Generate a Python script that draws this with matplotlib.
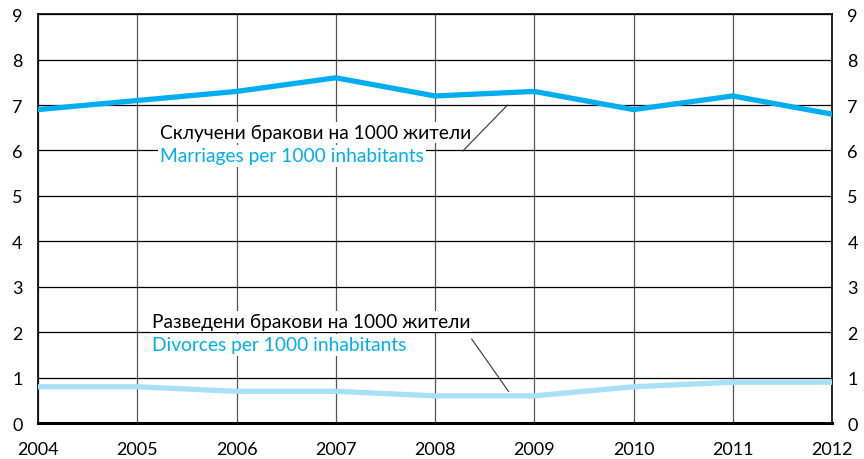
import numpy as np
import matplotlib.pyplot as plt

plt.rcParams['font.family'] = ['Lato', 'DejaVu Sans']

years = [2004, 2005, 2006, 2007, 2008, 2009, 2010, 2011, 2012]
marriages = [6.9, 7.1, 7.3, 7.6, 7.2, 7.3, 6.9, 7.2, 6.8]
divorces = [0.8, 0.8, 0.7, 0.7, 0.6, 0.6, 0.8, 0.9, 0.9]

fig = plt.figure(figsize=(8.64, 4.6), dpi=100)
ax = fig.add_axes([0.044, 0.078, 0.919, 0.889])

ax.plot(years, marriages, color='#00AEEF', lw=3.8, solid_joinstyle='miter', zorder=3)
ax.plot(years, divorces, color='#A8E0F8', lw=3.8, solid_joinstyle='miter', zorder=3)

ax.set_xlim(2004, 2012)
ax.set_ylim(0, 9)
ax.set_xticks(years)
ax.set_yticks(range(10))
ax.grid(axis='y', color='black', lw=0.9)
ax.grid(axis='x', color='#555555', lw=0.9)
ax.tick_params(length=0, labelsize=13, pad=11)
ax.tick_params(axis='x', pad=13)
ax.tick_params(axis='y', labelright=True, right=False)
for s in ax.spines.values():
    s.set_linewidth(1.2)
ax.spines['bottom'].set_linewidth(2.2)

box = dict(facecolor='white', edgecolor='none', pad=1.5)
fs = 13.8
ax.text(2005.23, 6.4, 'Склучени бракови на 1000 жители', fontsize=fs,
        va='center', ha='left', bbox=box, zorder=4)
ax.text(2005.23, 5.88, 'Marriages per 1000 inhabitants', fontsize=fs,
        color='#00AEEF', va='center', ha='left', bbox=box, zorder=4)
ax.text(2005.15, 2.24, 'Разведени бракови на 1000 жители', fontsize=fs,
        va='center', ha='left', bbox=box, zorder=4)
ax.text(2005.15, 1.72, 'Divorces per 1000 inhabitants', fontsize=fs,
        color='#00AEEF', va='center', ha='left', bbox=box, zorder=4)

ax.plot([2008.28, 2008.73], [5.99, 7.0], color='#333333', lw=0.8, zorder=5)
ax.plot([2008.37, 2008.74], [1.85, 0.70], color='#333333', lw=0.8, zorder=5)

fig.savefig('out.png', dpi=100)
